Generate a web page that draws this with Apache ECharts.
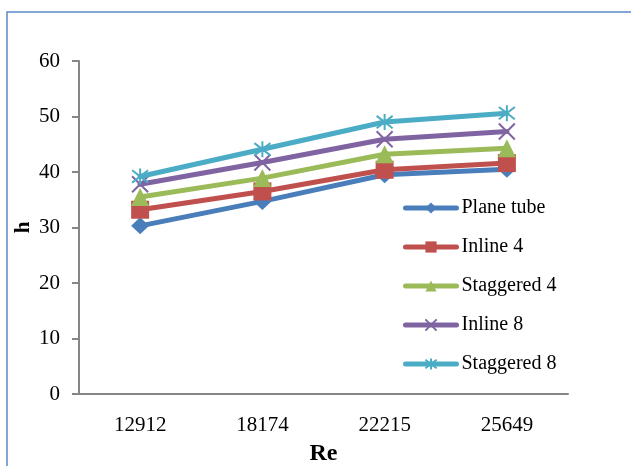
<!DOCTYPE html>
<html>
<head>
<meta charset="utf-8">
<script src="https://cdn.jsdelivr.net/npm/echarts@6/dist/echarts.min.js"></script>
<style>html,body{margin:0;padding:0;background:#fff;}#c{width:631px;height:466px;}</style>
</head>
<body>
<div id="c"></div>
<script>
var categories = ['12912', '18174', '22215', '25649'];
var seriesNames = ['Plane tube', 'Inline 4', 'Staggered 4', 'Inline 8', 'Staggered 8'];
var planeTube = [30.3, 34.7, 39.5, 40.5];
var inline4 = [33.2, 36.5, 40.4, 41.6];
var staggered4 = [35.5, 38.9, 43.2, 44.3];
var inline8 = [37.8, 41.7, 45.9, 47.3];
var staggered8 = [39.2, 44.1, 49.0, 50.6];
var yTicks = [0, 10, 20, 30, 40, 50, 60];

var colors = ['#4A7EBB', '#C0504D', '#9BBB59', '#8064A2', '#4BACC6'];
var symbols = ['diamond', 'rect', 'triangle', 'path://M0,0L10,10M10,0L0,10', 'path://M0,0L10,10M10,0L0,10M5,-1.5L5,11.5'];
var sizes = [[18, 17], 18, 18, 16, 16];
var dataSets = [planeTube, inline4, staggered4, inline8, staggered8];
var FONT = '"Liberation Serif", "Times New Roman", serif';

var series = dataSets.map(function (d, i) {
  var stroke = i >= 3;
  return {
    name: seriesNames[i],
    type: 'line',
    data: d,
    symbol: symbols[i],
    symbolSize: sizes[i],
    showAllSymbol: true,
    lineStyle: { color: colors[i], width: 5, cap: 'round', join: 'round' },
    itemStyle: stroke ? { color: colors[i], borderColor: colors[i], borderWidth: 2 } : { color: colors[i], borderWidth: 0 },
    emphasis: { disabled: true },
    z: 2 + i
  };
});

var chart = echarts.init(document.getElementById('c'), null, { renderer: 'canvas' });
chart.setOption({
  animation: false,
  color: colors,
  grid: { left: 79, right: 63, top: 61, bottom: 72, containLabel: false, outerBoundsMode: 'none' },
  graphic: [{
    type: 'rect', silent: true, z: -10,
    shape: { x: 7, y: 12, width: 800, height: 600 },
    style: { fill: 'none', stroke: '#5A8AC6', lineWidth: 1.5 }
  }],
  legend: {
    orient: 'vertical',
    left: 403,
    top: 198,
    padding: 0,
    itemWidth: 51,
    itemHeight: 14,
    itemGap: 19,
    lineStyle: { width: 5, cap: 'round' },
    textStyle: { fontFamily: FONT, fontSize: 20, color: '#000' },
    data: seriesNames
  },
  xAxis: {
    type: 'category',
    data: categories,
    boundaryGap: true,
    name: 'Re',
    nameLocation: 'middle',
    nameGap: 48,
    nameMoveOverlap: false,
    nameTextStyle: { fontFamily: FONT, fontSize: 24, fontWeight: 'bold', color: '#000' },
    axisLine: { lineStyle: { color: '#868686', width: 2 } },
    axisTick: { show: false },
    axisLabel: { fontFamily: FONT, fontSize: 21, color: '#000', margin: 21 },
    splitLine: { show: false }
  },
  yAxis: {
    type: 'value',
    min: yTicks[0],
    max: yTicks[yTicks.length - 1],
    interval: 10,
    name: 'h',
    nameLocation: 'middle',
    nameRotate: 90,
    nameGap: 45,
    nameMoveOverlap: false,
    nameTextStyle: { fontFamily: FONT, fontSize: 21, fontWeight: 'bold', color: '#000' },
    axisLine: { show: true, lineStyle: { color: '#868686', width: 2 } },
    axisTick: { show: true, length: 7, lineStyle: { color: '#868686', width: 2 } },
    axisLabel: { fontFamily: FONT, fontSize: 21, color: '#000', margin: 19 },
    splitLine: { show: false }
  },
  series: series
});
</script>
</body>
</html>
